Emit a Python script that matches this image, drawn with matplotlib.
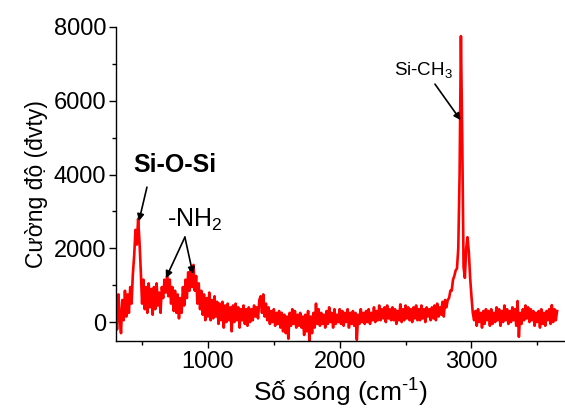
import numpy as np
import matplotlib
matplotlib.use("Agg")
import matplotlib.pyplot as plt
from matplotlib.ticker import MultipleLocator

plt.rcParams['font.family'] = ['Liberation Sans', 'DejaVu Sans']
plt.rcParams['mathtext.fontset'] = 'custom'
plt.rcParams['mathtext.rm'] = 'Liberation Sans'
plt.rcParams['mathtext.it'] = 'Liberation Sans:italic'
plt.rcParams['mathtext.bf'] = 'Liberation Sans:bold'

# Wavenumber grid (cm^-1), 10 cm^-1 step from 300 to 3650
wavenumber = np.arange(300, 3651, 10)

# Intensity values, per 100 cm^-1 block
intensity = [
    # 300-390
    700, -200, 750, 150, -300, 600, 50, 850, 150, 750,
    # 400-490
    250, 950, 500, 1300, 1800, 2500, 2100, 2800, 2200, 1400,
    # 500-590
    500, 1150, 350, 950, 250, 1050, 400, 900, 200, 950,
    # 600-690
    350, 1050, 450, 800, 250, 950, 650, 1150, 800, 1250,
    # 700-790
    700, 1150, 500, 950, 300, 850, 250, 750, 100, 650,
    # 800-890
    250, 950, 450, 1150, 650, 1350, 850, 1450, 950, 1550,
    # 900-990
    850, 1250, 500, 1050, 350, 850, 200, 750, 50, 650,
    # 1000-1090
    150, 800, 50, 600, 100, 700, 150, 550, -50, 500,
    # 1100-1190
    50, 550, -150, 450, 0, 500, 50, 400, -250, 450,
    # 1200-1290
    0, 500, 50, 400, -150, 350, 50, 450, -50, 350,
    # 1300-1390
    -100, 400, 0, 350, 50, 450, 150, 400, 100, 600,
    # 1400-1490
    700, 250, 750, 150, 500, 50, 400, -50, 300, 0,
    # 1500-1590
    350, -100, 250, -50, 300, -150, 250, -250, 200, -300,
    # 1600-1690
    150, -450, 250, -100, 350, -50, 300, -150, 200, -100,
    # 1700-1790
    250, -150, 150, -350, 200, -250, 300, -500, 150, -300,
    # 1800-1890
    250, -150, 500, -50, 350, -100, 250, -50, 200, -150,
    # 1900-1990
    300, -50, 400, 0, 250, -150, 350, -50, 200, 0,
    # 2000-2090
    350, -50, 300, -100, 250, 0, 350, -150, 250, -50,
    # 2100-2190
    300, -100, 250, -480, 200, -50, 350, 0, 250, -50,
    # 2200-2290
    300, 0, 350, -50, 250, 50, 400, 0, 300, 50,
    # 2300-2390
    450, 50, 350, 100, 400, 0, 450, 100, 350, 50,
    # 2400-2490
    400, 50, 350, -50, 300, 50, 480, 0, 350, 50,
    # 2500-2590
    450, 100, 400, 50, 350, 0, 400, 100, 450, 50,
    # 2600-2690
    350, 50, 450, 100, 350, 0, 400, 150, 350, 50,
    # 2700-2790
    400, 100, 450, 50, 500, 150, 400, 200, 550, 150,
    # 2800-2890
    600, 400, 600, 650, 850, 850, 1150, 1250, 1400, 1450,
    # 2900-2990
    2000, 4000, 7750, 5000, 1500, 1200, 2000, 2300, 1900, 1200,
    # 3000-3090
    700, 250, 50, 300, -100, 350, 0, 250, -150, 300,
    # 3100-3190
    -50, 350, 50, 300, -100, 350, -50, 250, 0, 400,
    # 3200-3290
    50, 350, -100, 300, 0, 450, 50, 350, -50, 300,
    # 3300-3390
    0, 400, 50, 350, -100, 570, -400, 250, -50, 350,
    # 3400-3490
    50, 450, 100, 400, 0, 350, 50, 300, -100, 250,
    # 3500-3590
    0, 300, -150, 350, -50, 250, -100, 300, 50, 350,
    # 3600-3650
    -50, 460, 0, 350, 50, 300,
]

x_ticks = [1000, 2000, 3000]
y_ticks = [0, 2000, 4000, 6000, 8000]

fig = plt.figure(figsize=(5.65, 4.08), dpi=100)
ax = fig.add_axes([0.2053, 0.164, 0.7947, 0.77])

ax.plot(wavenumber, intensity, color='#ff0000', lw=1.9)

ax.set_xlim(302, 3710)
ax.set_ylim(-515, 8000)
ax.set_xticks(x_ticks)
ax.set_yticks(y_ticks)
ax.xaxis.set_minor_locator(MultipleLocator(500))
ax.yaxis.set_minor_locator(MultipleLocator(1000))
ax.tick_params(which='major', direction='out', length=5, width=1, labelsize=17, pad=2)
ax.tick_params(which='minor', direction='out', length=3, width=1)
for s in ['top', 'right']:
    ax.spines[s].set_visible(False)
for s in ['left', 'bottom']:
    ax.spines[s].set_linewidth(1)

ax.set_xlabel('Số sóng (cm$^{\\text{-1}}$)', fontsize=19, labelpad=3)
ax.set_ylabel('Cường độ (đvty)', fontsize=16.5, labelpad=4)

arrow = dict(arrowstyle='-|>', color='black', lw=1.2, mutation_scale=10,
             shrinkA=0, shrinkB=0)
ax.text(746, 4065, 'Si-O-Si', fontsize=18, fontweight='bold',
        ha='center', va='baseline')
ax.annotate('', xy=(476, 2737), xytext=(537, 3658), arrowprops=arrow)

ax.text(901, 2575, '-NH$_2$', fontsize=18, ha='center', va='baseline')
ax.annotate('', xy=(681, 1192), xytext=(825, 2303), arrowprops=arrow)
ax.annotate('', xy=(886, 1301), xytext=(825, 2303), arrowprops=arrow)

ax.text(2639, 6694, 'Si-CH$_3$', fontsize=13.5, ha='center', va='baseline')
ax.annotate('', xy=(2918, 5474), xytext=(2723, 6450), arrowprops=arrow)

fig.savefig('out.png', dpi=100)
